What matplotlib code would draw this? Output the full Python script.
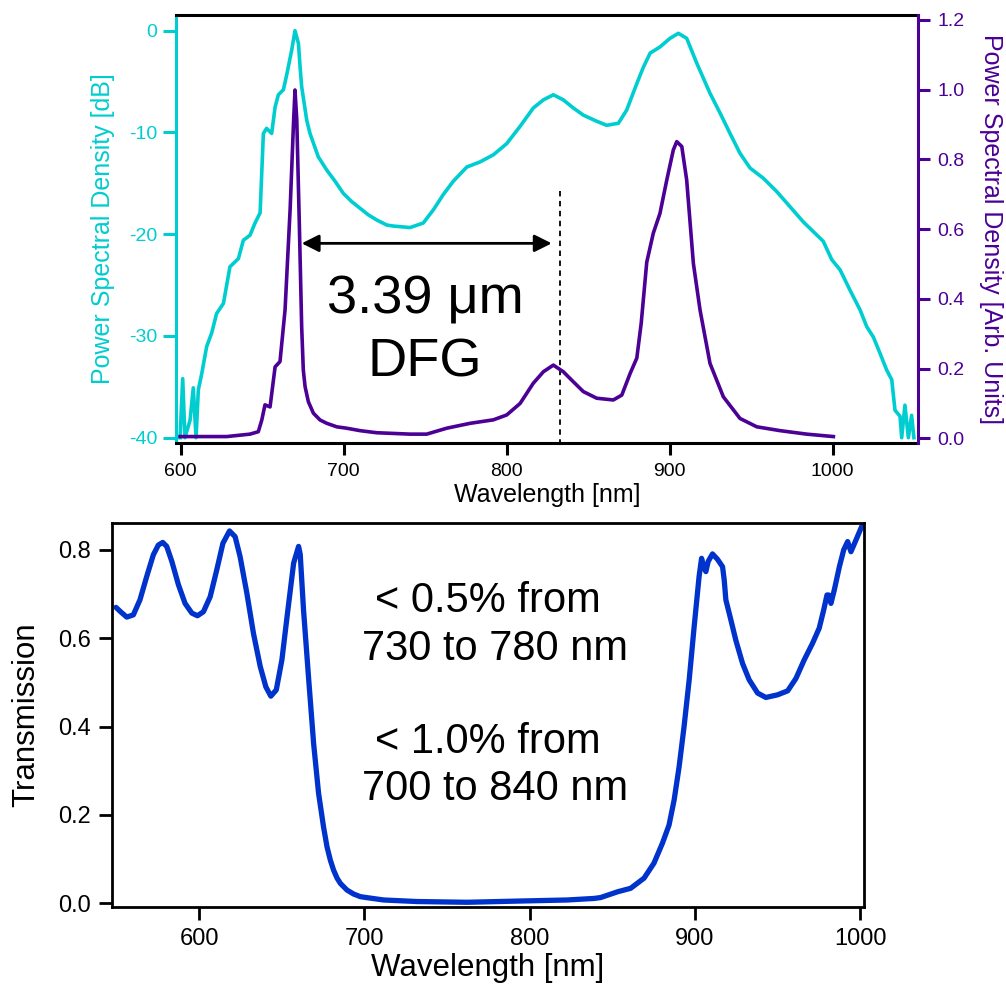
import matplotlib
matplotlib.use("Agg")
import matplotlib.pyplot as plt

plt.rcParams['font.family'] = ['Liberation Sans', 'DejaVu Sans']

# ---------------- data ----------------
cyan_wl = [599.6, 601.2, 602.6, 605.7, 607.7, 609.4, 610.8, 612.9, 615.9, 619.0,
           622.0, 626.2, 630.2, 635.4, 638.4, 642.5, 645.6, 648.7, 650.7, 652.7,
           655.8, 657.9, 659.9, 663.0, 665.0, 668.1, 670.1, 672.2, 673.2, 674.2,
           677.3, 679.3, 684.4, 689.6, 694.7, 699.8, 704.9, 710.0, 715.1, 720.2,
           726.4, 730.4, 740.7, 748.8, 755.0, 761.1, 767.2,
           775.5, 783.6, 791.8, 800.0, 808.2, 816.3, 822.5, 828.6, 834.7, 840.9,
           847.0, 855.2, 861.3, 868.5, 873.6, 879.8, 883.8, 888.0, 894.0, 900.2,
           905.3, 910.4, 916.6, 924.7, 930.9, 937.0, 943.1, 949.3, 957.4, 965.6,
           973.8, 982.0, 988.1, 994.2, 999.4, 1004.5, 1010.6, 1016.8, 1020.9, 1024.9,
           1029.0, 1033.1, 1036.2, 1038.2, 1041.3, 1042.3, 1044.3, 1046.4, 1048.4, 1049.8]
cyan_db = [-40.0, -34.2, -40.0, -38.3, -35.1, -40.0, -35.3, -33.7, -31.05, -29.7,
           -27.8, -26.8, -23.2, -22.4, -20.6, -20.1, -18.9, -17.9, -10.1, -9.6,
           -10.1, -7.5, -6.3, -5.8, -4.35, -1.9, 0.0, -1.24, -3.5, -5.5,
           -8.8, -10.1, -12.4, -13.7, -14.8, -16.0, -16.8, -17.45, -18.1, -18.6,
           -19.1, -19.2, -19.35, -18.9, -17.6, -16.1, -14.8,
           -13.4, -12.9, -12.2, -11.1, -9.4, -7.6, -6.8, -6.3, -6.8, -7.6,
           -8.3, -8.9, -9.3, -9.1, -7.8, -5.2, -3.6, -2.2, -1.6, -0.75,
           -0.26, -0.75, -3.2, -6.15, -8.1, -10.1, -12.05, -13.5, -14.5, -15.8,
           -17.3, -18.8, -19.75, -20.7, -22.5, -23.5, -25.5, -27.45, -29.1, -30.1,
           -31.7, -33.35, -34.3, -37.3, -37.9, -40.0, -36.8, -40.0, -37.8, -40.0]

purple_wl = [599.6, 628.2, 642.5, 647.6, 649.7, 651.7, 654.8, 657.9, 660.9, 664.0,
             667.1, 669.1, 670.1, 671.2, 672.8, 674.2, 675.2, 676.3, 678.3, 681.4,
             685.5, 689.6, 695.7, 701.8, 710.0,
             720.2, 740.7, 750.9, 763.2, 777.5, 791.8, 800.0, 808.2, 816.3, 822.5,
             828.6, 834.7, 840.9, 847.0, 855.2, 865.4, 870.6, 875.7, 879.8, 882.5,
             885.9, 889.9, 894.0, 898.2, 902.2, 904.3, 907.4, 910.4, 914.5, 918.6,
             924.7, 932.9, 943.1, 953.4, 967.7, 984.0, 1000.4]
purple_psd = [0.005, 0.005, 0.012, 0.019, 0.052, 0.096, 0.090, 0.205, 0.220, 0.368,
              0.655, 0.894, 0.999, 0.913, 0.607, 0.320, 0.196, 0.148, 0.105, 0.072,
              0.0525, 0.043, 0.033, 0.029, 0.022,
              0.016, 0.012, 0.012, 0.029, 0.043, 0.053, 0.067, 0.100, 0.158, 0.191,
              0.210, 0.191, 0.162, 0.134, 0.115, 0.110, 0.124, 0.186, 0.230, 0.330,
              0.505, 0.588, 0.645, 0.741, 0.827, 0.851, 0.837, 0.741, 0.502, 0.368,
              0.215, 0.119, 0.057, 0.033, 0.022, 0.012, 0.005]

trans_wl = [549.7, 552.5, 556.2, 560.2, 564.2, 568.3, 572.3, 575.3, 578.0, 580.4,
            583.5, 587.5, 591.5, 595.6, 599.0, 602.6, 606.7, 610.7, 614.4, 618.4,
            621.8, 624.8, 628.9, 632.9, 637.0, 640.4, 643.4, 646.7, 650.1, 653.5,
            657.2, 660.2, 661.2, 663.2, 666.2, 669.3, 672.3, 675.3, 677.4, 679.4,
            681.4, 683.5, 685.5, 689.5, 693.5, 697.6, 701.6, 711.7, 731.9, 762.2,
            792.5, 822.8, 839.0, 843.0, 853.2,
            861.2, 869.3, 875.3, 880.4, 884.4, 887.5, 890.5, 893.5, 896.6, 899.6,
            902.6, 904.1, 905.6, 906.7, 908.1, 910.7, 913.7, 916.8, 917.8, 918.8,
            921.8, 924.8, 928.9, 932.9, 938.0, 943.0, 950.1, 956.2, 961.2, 966.2,
            971.3, 975.3, 978.0, 980.0, 981.0, 982.4, 984.4, 987.5, 990.1, 992.5,
            994.5, 997.6, 1001.0]
trans_val = [0.670, 0.660, 0.648, 0.653, 0.687, 0.740, 0.789, 0.811, 0.817, 0.808,
             0.774, 0.721, 0.679, 0.657, 0.651, 0.660, 0.694, 0.755, 0.815, 0.843,
             0.830, 0.785, 0.702, 0.611, 0.536, 0.490, 0.469, 0.483, 0.551, 0.657,
             0.770, 0.808, 0.790, 0.664, 0.513, 0.362, 0.249, 0.173, 0.128, 0.098,
             0.075, 0.057, 0.045, 0.030, 0.021, 0.015, 0.0128, 0.0075, 0.004, 0.0023,
             0.005, 0.0075, 0.011, 0.013, 0.026,
             0.034, 0.057, 0.091, 0.136, 0.177, 0.234, 0.309, 0.400, 0.506, 0.626,
             0.740, 0.781, 0.759, 0.751, 0.774, 0.791, 0.779, 0.762, 0.732, 0.687,
             0.642, 0.596, 0.543, 0.506, 0.476, 0.466, 0.472, 0.481, 0.509, 0.551,
             0.589, 0.623, 0.664, 0.698, 0.698, 0.679, 0.709, 0.762, 0.800, 0.819,
             0.796, 0.823, 0.853]

top_xticks = [600, 700, 800, 900, 1000]
left_yticks = [0, -10, -20, -30, -40]
right_yticks = [0.0, 0.2, 0.4, 0.6, 0.8, 1.0, 1.2]
bot_xticks = [600, 700, 800, 900, 1000]
bot_yticks = [0.0, 0.2, 0.4, 0.6, 0.8]

# annotation anchors (nm / dB)
DFG_LINE_WL = 832.7
DFG_LINE_TOP = -15.8
ARROW_START = 674.2
ARROW_END = 827.6
ARROW_DB = -20.9

CYAN = '#00CDCF'
PURPLE = '#4B0096'
BLUE = '#0033CC'

# ---------------- figure ----------------
W, H = 1006, 985
fig = plt.figure(figsize=(W / 100, H / 100), dpi=100)

def px_axes(l, t, r, b):
    return fig.add_axes([l / W, 1 - b / H, (r - l) / W, (b - t) / H])

# ---- top panel ----
ax1 = px_axes(176, 14.7, 918.3, 443.3)
ax1.plot(cyan_wl, cyan_db, color=CYAN, lw=2.6, solid_joinstyle='round')
ax1.set_xlim(597.1, 1052.5)
ax1.set_ylim(-40.55, 1.57)
ax1.set_xticks(top_xticks)
ax1.set_yticks(left_yticks)
ax1.set_yticklabels([str(v) for v in left_yticks])
ax1.tick_params(axis='x', direction='out', length=8.6, width=2.2, labelsize=14, pad=5.5, colors='black')
ax1.tick_params(axis='y', direction='out', length=9.2, width=2.2, labelsize=14, pad=4.3,
                colors=CYAN)
for s in ['top', 'bottom']:
    ax1.spines[s].set_linewidth(2.2)
    ax1.spines[s].set_color('black')
ax1.spines['left'].set_color(CYAN)
ax1.spines['left'].set_linewidth(2.2)
ax1.spines['right'].set_visible(False)
ax1.set_xlabel('Wavelength [nm]', fontsize=18, va='center')
ax1.xaxis.set_label_coords(0.5, -0.121)
ax1.set_ylabel('Power Spectral Density [dB]', fontsize=18, color=CYAN, va='center')
ax1.yaxis.set_label_coords(-0.098, 0.5)

# dashed DFG marker and arrow
ax1.plot([DFG_LINE_WL, DFG_LINE_WL], [DFG_LINE_TOP, -40.55], ls=(0, (3, 2.5)), color='black', lw=1.3)
ax1.annotate('', xy=(ARROW_START, ARROW_DB), xytext=(ARROW_END, ARROW_DB),
             arrowprops=dict(arrowstyle='<|-|>', color='black', lw=2.0,
                             mutation_scale=26, shrinkA=0, shrinkB=0))
ax1.text(750, -27.77, '3.39 \u03bcm', fontsize=39, ha='center', va='baseline')
ax1.text(750, -34.0, 'DFG', fontsize=39, ha='center', va='baseline')

ax2 = ax1.twinx()
ax2.plot(purple_wl, purple_psd, color=PURPLE, lw=2.6, solid_joinstyle='round')
ax2.set_ylim(-0.0143, 1.215)
ax2.set_yticks(right_yticks)
ax2.set_yticklabels([f'{v:.1f}' for v in right_yticks])
ax2.tick_params(axis='y', direction='out', length=8.5, width=2.2, labelsize=14, pad=5,
                colors=PURPLE)
ax2.spines['right'].set_color(PURPLE)
ax2.spines['right'].set_linewidth(2.2)
ax2.spines['left'].set_visible(False)
ax2.spines['top'].set_visible(False)
ax2.spines['bottom'].set_visible(False)
ax2.set_ylabel('Power Spectral Density [Arb. Units]', fontsize=18, color=PURPLE,
               rotation=270, va='center')
ax2.yaxis.set_label_coords(1.098, 0.5)

# ---- bottom panel ----
ax3 = px_axes(111.7, 523, 864, 906.7)
ax3.plot(trans_wl, trans_val, color=BLUE, lw=3.8, solid_joinstyle='round', solid_capstyle='round')
ax3.set_xlim(547.1, 1002.4)
ax3.set_ylim(-0.0077, 0.861)
ax3.set_xticks(bot_xticks)
ax3.set_yticks(bot_yticks)
ax3.set_yticklabels([f'{v:.1f}' for v in bot_yticks])
ax3.tick_params(axis='both', direction='out', length=9.5, width=2.0, labelsize=17, pad=5.5)
for s in ax3.spines.values():
    s.set_linewidth(2.0)
ax3.set_xlabel('Wavelength [nm]', fontsize=22.5, va='center')
ax3.xaxis.set_label_coords(0.5, -0.16)
ax3.set_ylabel('Transmission', fontsize=22.5, va='center')
ax3.yaxis.set_label_coords(-0.1133, 0.5)

ax3.text(706.7, 0.659, '< 0.5% from', fontsize=30, ha='left', va='baseline')
ax3.text(698.6, 0.551, '730 to 780 nm', fontsize=30, ha='left', va='baseline')
ax3.text(706.7, 0.340, '< 1.0% from', fontsize=30, ha='left', va='baseline')
ax3.text(698.6, 0.234, '700 to 840 nm', fontsize=30, ha='left', va='baseline')

fig.savefig('out.png', dpi=100)
